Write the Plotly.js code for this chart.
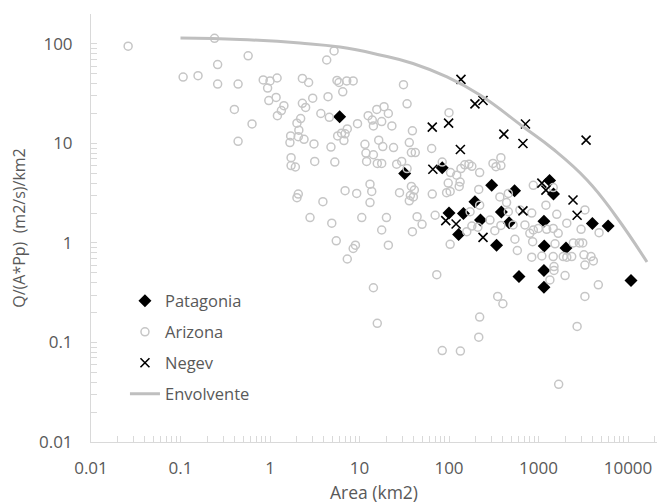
<!DOCTYPE html>
<html>
<head>
<meta charset="utf-8">
<script src="https://cdn.plot.ly/plotly-3.0.1.min.js"></script>
<style>
  html, body { margin: 0; padding: 0; background: #ffffff; }
  #chart { width: 658px; height: 504px; }
</style>
</head>
<body>
<div id="chart"></div>
<script>
// Patagonia basins: area (km2) and specific peak flow Q/(A*Pp)
const patagoniaArea = [6.0, 84, 32, 300, 540, 1330, 1470, 195, 100, 145, 385, 470, 225, 1150,
  128, 340, 1160, 2030, 4000, 6000, 605, 1150, 1150, 10800];
const patagoniaQ = [18.6, 5.7, 5.0, 3.8, 3.35, 4.25, 3.1, 2.6, 2.0, 1.98, 2.05, 1.6, 1.7, 1.65,
  1.22, 0.95, 0.93, 0.89, 1.57, 1.48, 0.46, 0.53, 0.36, 0.42];

// Arizona basins
const arizonaArea = [0.026, 0.24, 0.26, 0.107, 0.157, 0.26, 0.44, 0.40, 0.44, 0.57, 0.63, 5.2, 4.3,
  0.84, 1.0, 1.2, 0.94, 2.3, 2.7, 5.6, 5.9, 7.2, 8.5, 6.5, 4.45, 3.0, 1.17, 0.97, 1.43, 1.34, 1.21,
  2.3, 2.5, 3.7, 4.6, 2.2, 2.0, 2.1, 1.7, 2.07, 1.67, 2.4, 3.1, 4.8, 5.7, 6.3, 7.3, 6.9, 6.7, 9.5,
  12.5, 13.9, 15.6, 14.3, 11.5, 16.4, 1.72, 1.72, 1.92, 3.16, 5.3, 11.8, 12, 14.3, 15.8, 13.1, 13.7,
  6.9, 9.3, 13.1, 3.9, 2.07, 2.0, 2.8, 10.6, 4.9, 5.5, 9.0, 8.5, 7.3, 14.3, 15.8,
  31, 34, 100, 18.8, 21, 23, 17.7, 39, 64, 24, 36, 18.2, 38, 42, 17.7, 26, 29.6, 34, 84, 150, 167,
  180, 136, 122, 104, 220, 310, 380, 380, 335, 133, 130, 98, 103, 94, 65, 38, 41, 37, 40, 28, 36,
  215, 370, 460, 440, 460, 620, 220, 172, 70, 44, 20, 17.7, 21, 39, 50, 73, 103, 350, 400, 220, 215,
  84, 134, 325, 545, 580, 380, 158, 210, 180, 287, 520,
  875, 1460, 1210, 1600, 3300, 840, 705, 800, 875, 995, 1235, 1460, 1660, 2070, 2990, 4750, 860,
  1530, 2450, 2860, 3120, 840, 1090, 1460, 1890, 2070, 2350, 3220, 3860, 4100, 3300, 1490, 1490,
  1340, 1980, 4660, 3300, 2700, 1680];
const arizonaQ = [95, 114, 62, 46.5, 48, 39.5, 39.5, 22, 10.5, 76, 15.7, 85, 69,
  43.5, 42.5, 45.5, 36, 45, 41, 43, 41, 42.5, 42.5, 33, 29.5, 28.5, 29, 27, 24, 21.4, 19,
  25.3, 23, 20, 18.3, 17.8, 16, 13.6, 11.9, 11.7, 10.2, 11, 9.9, 9.2, 11.9, 12.7, 14, 12.5, 10.7, 15.8,
  19, 17.2, 22, 15, 9.8, 10.8, 7.2, 6.0, 5.8, 6.6, 6.5, 8.0, 6.6, 7.7, 6.3, 3.9, 3.3,
  3.35, 3.15, 2.55, 2.6, 3.1, 2.85, 1.8, 1.8, 1.58, 1.05, 0.95, 0.88, 0.69, 0.355, 0.156,
  39, 25, 20.4, 23.4, 20, 15, 16.6, 13.4, 8.9, 9.1, 10.2, 9.3, 8.1, 8.1, 6.3, 6.2, 6.6, 5.6, 6.5, 6.1, 6.2,
  5.9, 5.6, 4.8, 5.1, 5.1, 6.3, 7.2, 6.0, 5.85, 4.1, 3.7, 4.0, 3.3, 3.2, 3.1, 3.7, 3.4, 3.0, 2.9, 3.2, 2.65,
  3.45, 2.9, 3.15, 2.55, 2.06, 2.15, 2.4, 2.06, 1.9, 1.84, 1.8, 1.35, 0.95, 1.3, 1.54, 0.48, 0.97, 0.29, 0.245, 0.18, 0.113,
  0.083, 0.082, 1.33, 1.09, 0.84, 1.5, 1.3, 1.44, 1.48, 1.7, 1.52,
  3.8, 3.6, 2.4, 1.94, 2.15, 2.0, 1.52, 1.25, 1.35, 1.4, 1.37, 1.4, 1.25, 1.58, 1.37, 1.27, 1.03,
  0.98, 1.0, 1.0, 1.0, 0.72, 0.74, 0.73, 0.73, 0.72, 0.73, 0.76, 0.73, 0.66, 0.6, 0.58, 0.53,
  0.425, 0.47, 0.38, 0.29, 0.145, 0.038];

// Negev basins
const negevArea = [136, 195, 240, 65, 99, 715, 410, 670, 3400, 134, 66, 1090, 1210, 2430, 670,
  2700, 92, 120, 240];
const negevQ = [44, 25, 27, 14.6, 16, 15.7, 12.4, 10, 10.8, 8.7, 5.5, 4.0, 3.4, 2.7, 2.1,
  1.9, 1.68, 1.55, 1.14];

// Envelope curve
const envolventeArea = [0.1, 0.46, 2.16, 6.05, 16.9, 39.6, 95, 222, 655, 1452, 3483, 7160, 16300];
const envolventeQ = [115, 111, 102, 93, 77.5, 63.7, 46.6, 30.7, 15.0, 8.8, 4.3, 1.91, 0.644];

// Axis labels
const xTickVals = [0.01, 0.1, 1, 10, 100, 1000, 10000];
const xTickText = ['0.01', '0.1', '1', '10', '100', '1000', '10000'];
const yTickVals = [0.01, 0.1, 1, 10, 100];
const yTickText = ['0.01', '0.1', '1', '10', '100'];

// minor tick positions 1..9 inside each decade
function minorTicks(fromExp, toExp) {
  const out = [];
  for (let e = fromExp; e <= toExp; e++) {
    for (let m = 1; m <= 9; m++) out.push(m * Math.pow(10, e));
  }
  return out;
}

const FONT = 'Open Sans, sans-serif';
const TEXT = '#595959';
const AXIS = '#d9d9d9';

const traces = [
  {
    type: 'scatter', mode: 'markers', name: 'Patagonia',
    x: patagoniaArea, y: patagoniaQ, legendgroup: 'p',
    marker: { symbol: 'diamond', size: 10, color: '#000000', line: { width: 0 } }
  },
  {
    type: 'scatter', mode: 'markers', name: 'Arizona',
    x: arizonaArea, y: arizonaQ, legendgroup: 'a',
    marker: { symbol: 'circle-open', size: 8, color: '#c6c6c6', line: { width: 1.5, color: '#c6c6c6' } }
  },
  {
    type: 'scatter', mode: 'markers', name: 'Negev',
    x: negevArea, y: negevQ, legendgroup: 'n',
    marker: { symbol: 'x-thin-open', size: 9, color: '#000000', line: { width: 1.6, color: '#000000' } }
  },
  {
    type: 'scatter', mode: 'lines', name: 'Envolvente',
    x: envolventeArea, y: envolventeQ, legendgroup: 'e',
    line: { color: '#bfbfbf', width: 3, shape: 'spline', smoothing: 1.3 }
  }
];

const layout = {
  width: 658, height: 504,
  margin: { l: 91, r: 1, t: 14, b: 62 },
  paper_bgcolor: '#ffffff', plot_bgcolor: '#ffffff',
  font: { family: FONT, color: TEXT, size: 16 },
  showlegend: true,
  legend: {
    x: 0.06, y: 0.37, xanchor: 'left', yanchor: 'top',
    bgcolor: 'rgba(0,0,0,0)', font: { family: FONT, size: 16.5, color: TEXT },
    tracegroupgap: 6.5, traceorder: 'grouped'
  },
  xaxis: {
    type: 'log', range: [-2, 4.324], autorange: false,
    showline: true, linecolor: AXIS, linewidth: 1, mirror: false,
    showgrid: false, zeroline: false,
    tickmode: 'array', tickvals: xTickVals, ticktext: xTickText,
    ticks: 'inside', ticklen: 6, tickcolor: AXIS, tickwidth: 1,
    tickfont: { family: FONT, size: 17, color: TEXT },
    ticklabelstandoff: 11,
    minor: { tickmode: 'array', tickvals: minorTicks(-2, 4), ticks: 'inside', ticklen: 6, tickcolor: AXIS, showgrid: false },
    title: { text: 'Area (km2)', font: { family: FONT, size: 17.5, color: TEXT }, standoff: 25 },
    automargin: false
  },
  yaxis: {
    type: 'log', range: [-2, Math.log10(200)], autorange: false,
    showline: true, linecolor: AXIS, linewidth: 1, mirror: false,
    showgrid: false, zeroline: false,
    tickmode: 'array', tickvals: yTickVals, ticktext: yTickText,
    ticks: 'inside', ticklen: 6, tickcolor: AXIS, tickwidth: 1,
    tickfont: { family: FONT, size: 17, color: TEXT },
    ticklabelstandoff: 14,
    minor: { tickmode: 'array', tickvals: minorTicks(-2, 2), ticks: 'inside', ticklen: 6, tickcolor: AXIS, showgrid: false },
    title: { text: 'Q/(A*Pp)  (m2/s)/km2', font: { family: FONT, size: 16, color: TEXT }, standoff: 9 },
    automargin: false
  }
};

Plotly.newPlot('chart', traces, layout, { displayModeBar: false, staticPlot: true });
</script>
</body>
</html>
